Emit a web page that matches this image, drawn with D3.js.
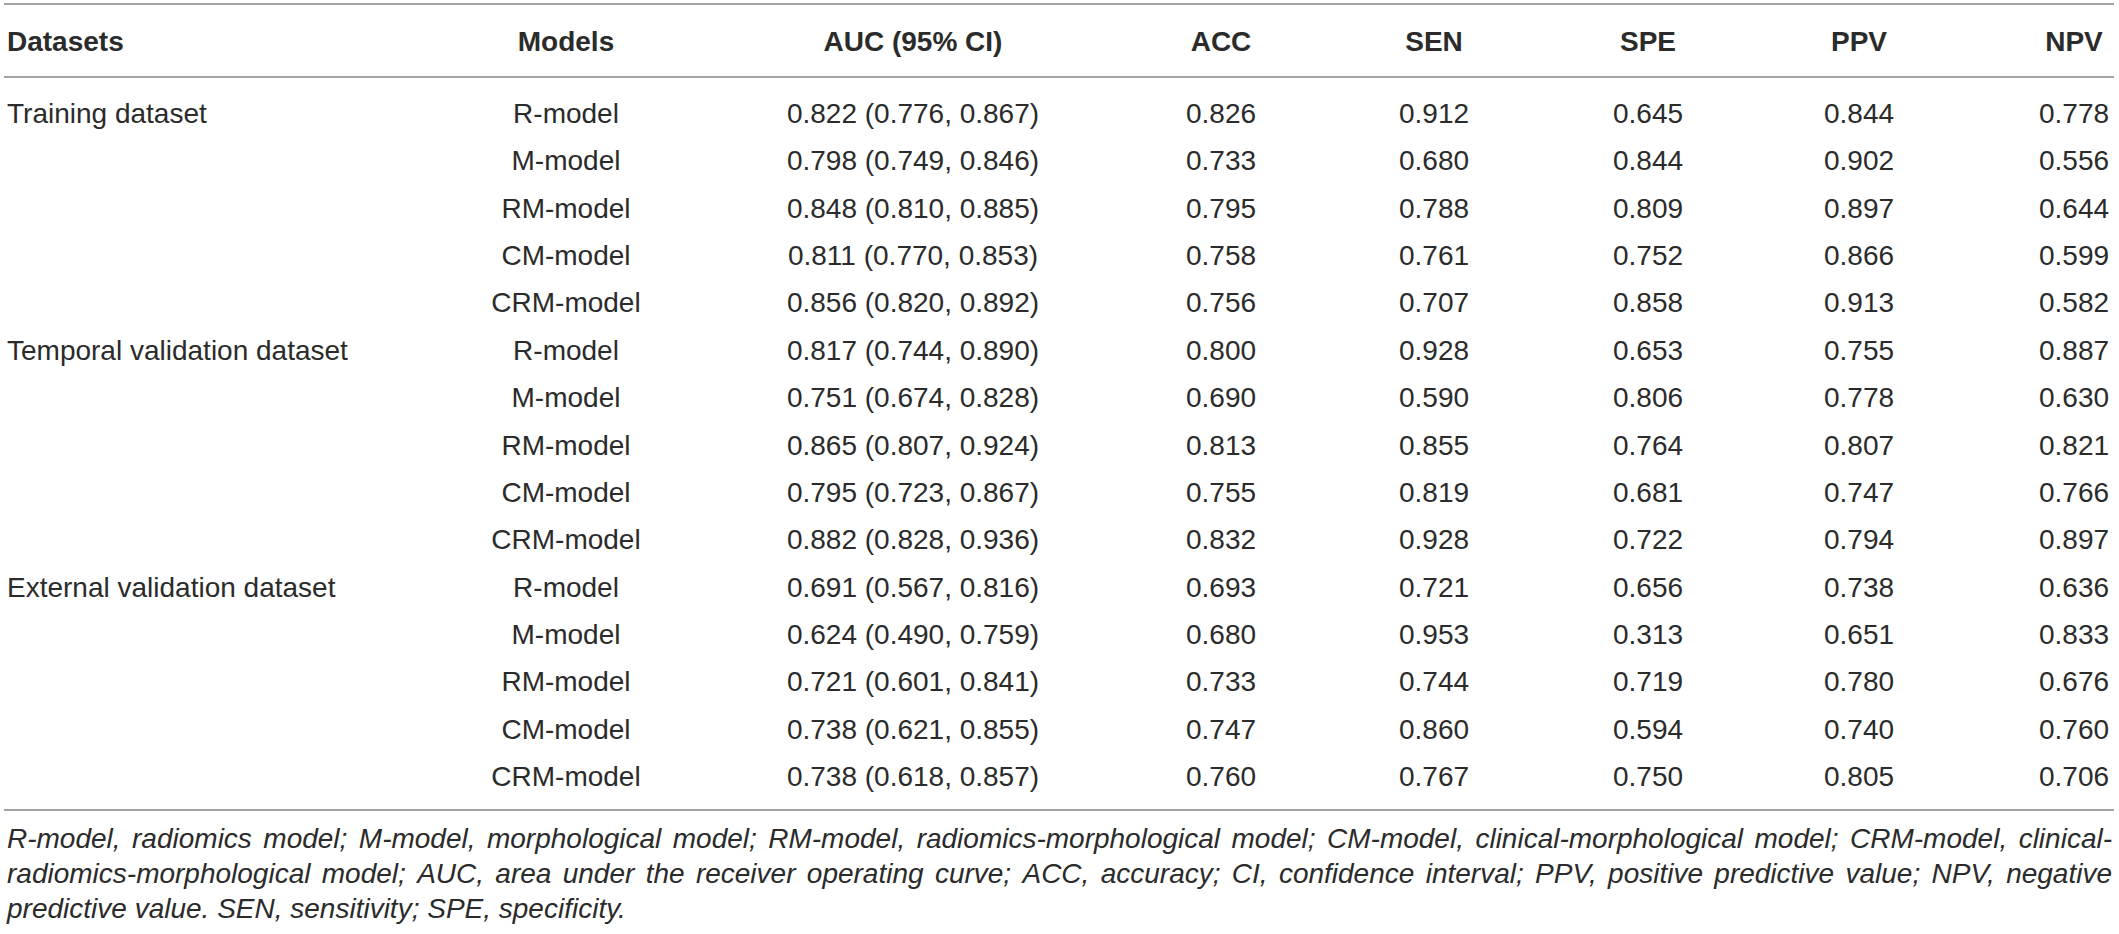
<!DOCTYPE html>
<html>
<head>
<meta charset="utf-8">
<script src="https://cdn.jsdelivr.net/npm/d3@7"></script>
<style>
  html, body { margin: 0; padding: 0; background: #fff; }
  svg text { font-family: "Liberation Sans", Arial, sans-serif; fill: #2b2b2b; }
</style>
</head>
<body>
<div id="chart-area"></div>
<script>
const WIDTH = 2119
const HEIGHT = 934

// table content
const headers = ["Datasets", "Models", "AUC (95% CI)", "ACC", "SEN", "SPE", "PPV", "NPV"]
const datasets = ["Training dataset", "Temporal validation dataset", "External validation dataset"]
const models = ["R-model", "M-model", "RM-model", "CM-model", "CRM-model"]
const auc = [
  "0.822 (0.776, 0.867)", "0.798 (0.749, 0.846)", "0.848 (0.810, 0.885)", "0.811 (0.770, 0.853)", "0.856 (0.820, 0.892)",
  "0.817 (0.744, 0.890)", "0.751 (0.674, 0.828)", "0.865 (0.807, 0.924)", "0.795 (0.723, 0.867)", "0.882 (0.828, 0.936)",
  "0.691 (0.567, 0.816)", "0.624 (0.490, 0.759)", "0.721 (0.601, 0.841)", "0.738 (0.621, 0.855)", "0.738 (0.618, 0.857)"
]
const acc = [0.826, 0.733, 0.795, 0.758, 0.756, 0.800, 0.690, 0.813, 0.755, 0.832, 0.693, 0.680, 0.733, 0.747, 0.760]
const sen = [0.912, 0.680, 0.788, 0.761, 0.707, 0.928, 0.590, 0.855, 0.819, 0.928, 0.721, 0.953, 0.744, 0.860, 0.767]
const spe = [0.645, 0.844, 0.809, 0.752, 0.858, 0.653, 0.806, 0.764, 0.681, 0.722, 0.656, 0.313, 0.719, 0.594, 0.750]
const ppv = [0.844, 0.902, 0.897, 0.866, 0.913, 0.755, 0.778, 0.807, 0.747, 0.794, 0.738, 0.651, 0.780, 0.740, 0.805]
const npv = [0.778, 0.556, 0.644, 0.599, 0.582, 0.887, 0.630, 0.821, 0.766, 0.897, 0.636, 0.833, 0.676, 0.760, 0.706]
const footnote = [
  "R-model, radiomics model; M-model, morphological model; RM-model, radiomics-morphological model; CM-model, clinical-morphological model; CRM-model, clinical-",
  "radiomics-morphological model; AUC, area under the receiver operating curve; ACC, accuracy; CI, confidence interval; PPV, positive predictive value; NPV, negative",
  "predictive value. SEN, sensitivity; SPE, specificity."
]

const fmt = d3.format(".3f")

// build rows
const rows = []
datasets.forEach((ds, i) => {
  models.forEach((m, j) => {
    const k = i * models.length + j
    rows.push([j === 0 ? ds : "", m, auc[k], fmt(acc[k]), fmt(sen[k]), fmt(spe[k]), fmt(ppv[k]), fmt(npv[k])])
  })
})

// layout
const LEFT = 7, RIGHT = 2112
const TOP_LINE = 4, HEAD_LINE = 77, BOTTOM_LINE = 810
const FONT = 28
const colX = [LEFT, 566, 913, 1221, 1434, 1648, 1859, 2074]

const svg = d3.select("#chart-area").append("svg")
  .attr("width", WIDTH)
  .attr("height", HEIGHT)

const y = d3.scaleBand()
  .domain(d3.range(rows.length))
  .range([89, 799.4])

// rules
svg.selectAll("line.rule")
  .data([TOP_LINE, HEAD_LINE, BOTTOM_LINE])
  .enter().append("line")
  .attr("class", "rule")
  .attr("x1", 4).attr("x2", RIGHT + 2)
  .attr("y1", d => d).attr("y2", d => d)
  .attr("stroke", "#a3a3a3")
  .attr("stroke-width", 2)

// header
svg.append("g").selectAll("text")
  .data(headers)
  .enter().append("text")
  .attr("x", (d, i) => colX[i])
  .attr("y", 51)
  .attr("text-anchor", (d, i) => i === 0 ? "start" : "middle")
  .attr("font-size", FONT + "px")
  .attr("font-weight", "bold")
  .text(d => d)

// body
const rowG = svg.append("g").selectAll("g")
  .data(rows)
  .enter().append("g")
  .attr("transform", (d, i) => `translate(0, ${y(i) + y.bandwidth() / 2 + FONT * 0.37})`)

rowG.selectAll("text")
  .data(d => d)
  .enter().append("text")
  .attr("x", (d, i) => colX[i])
  .attr("text-anchor", (d, i) => i === 0 ? "start" : "middle")
  .attr("font-size", FONT + "px")
  .text(d => d)

// footnote, first two lines justified
const noteG = svg.append("g")
  .attr("font-size", FONT + "px")
  .attr("font-style", "italic")

footnote.forEach((line, li) => {
  const baseY = 848 + li * 35
  const words = line.split(" ")
  const widths = words.map(w => {
    const t = noteG.append("text").text(w)
    const len = t.node().getComputedTextLength()
    t.remove()
    return len
  })
  const total = d3.sum(widths)
  const justify = li < footnote.length - 1
  const space = justify ? (RIGHT - LEFT - total) / (words.length - 1) : FONT * 0.278
  let x = LEFT
  words.forEach((w, k) => {
    noteG.append("text")
      .attr("x", x)
      .attr("y", baseY)
      .text(w)
    x += widths[k] + space
  })
})
</script>
</body>
</html>
